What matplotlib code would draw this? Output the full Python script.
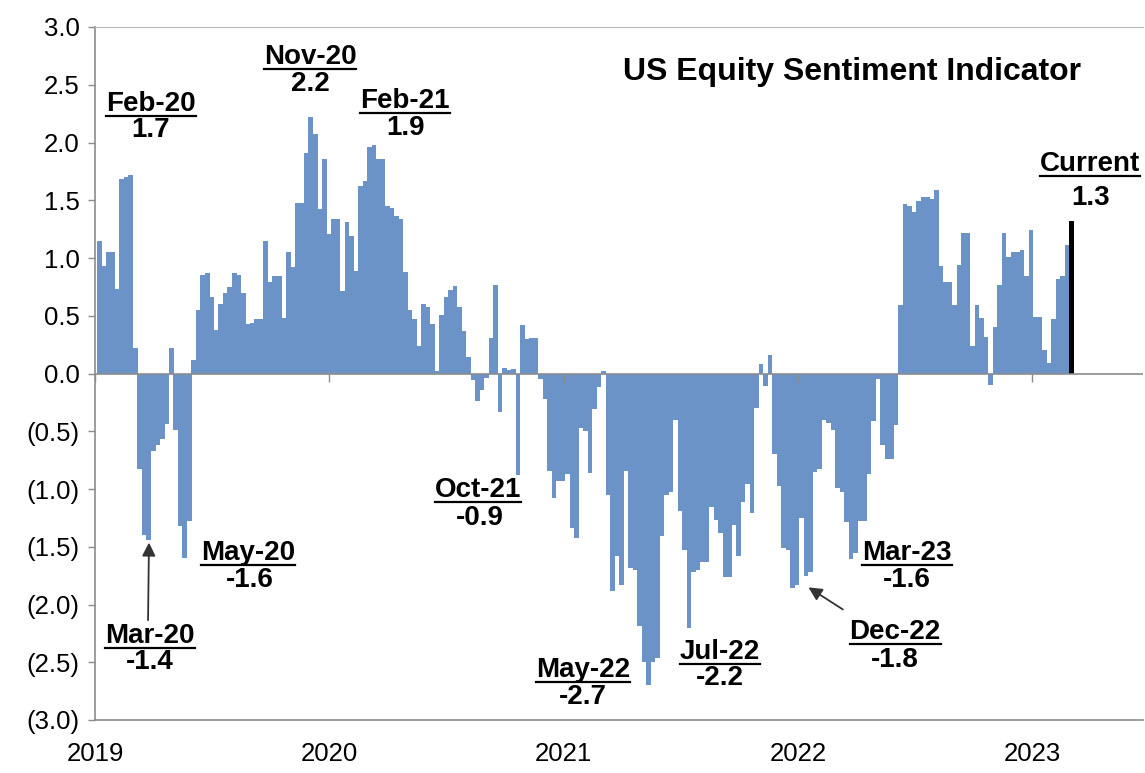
import matplotlib
matplotlib.use("Agg")
import matplotlib.pyplot as plt
from matplotlib import font_manager
from matplotlib.lines import Line2D
import numpy as np

# ---------------- data ----------------
values = [
    1.15, 0.93, 1.05, 1.05, 0.73, 1.68, 1.70, 1.72, 0.22, -0.83,
    -1.40, -1.44, -0.67, -0.62, -0.57, -0.44, 0.22, -0.49, -1.32, -1.60,
    -1.28, 0.12, 0.55, 0.85, 0.87, 0.66, 0.38, 0.60, 0.70, 0.75,
    0.87, 0.85, 0.70, 0.43, 0.44, 0.47, 0.47, 1.15, 0.79, 0.84,
    0.84, 0.48, 1.05, 0.92, 1.48, 1.48, 1.91, 2.22, 2.07, 1.42,
    1.86, 1.21, 1.34, 1.34, 0.71, 1.31, 1.19, 0.89, 1.62, 1.67,
    1.96, 1.98, 1.86, 1.86, 1.45, 1.43, 1.36, 1.34, 0.88, 0.55,
    0.47, 0.24, 0.60, 0.58, 0.43, 0.02, 0.51, 0.66, 0.72, 0.76,
    0.58, 0.37, 0.14, -0.06, -0.24, -0.14, -0.04, 0.31, 0.77, -0.33,
    0.05, 0.03, 0.04, -0.88, 0.42, 0.30, 0.31, 0.31, -0.05, -0.22,
    -0.84, -1.08, -0.93, -0.93, -0.87, -1.34, -1.42, -0.47, -0.50, -0.86,
    -0.31, -0.12, 0.02, -1.05, -1.88, -1.58, -1.83, -0.84, -1.68, -1.70,
    -2.19, -2.50, -2.70, -2.50, -2.46, -1.41, -1.05, -1.03, -0.40, -1.19,
    -1.53, -2.20, -1.72, -1.70, -1.63, -1.63, -1.16, -1.27, -1.38, -1.76,
    -1.76, -1.31, -1.58, -1.11, -0.96, -1.21, -0.30, 0.08, -0.11, 0.16,
    -0.70, -0.97, -1.51, -1.53, -1.86, -1.83, -1.25, -1.75, -1.72, -0.85,
    -0.83, -0.40, -0.43, -0.49, -0.99, -1.03, -1.29, -1.61, -1.55, -1.28,
    -1.28, -0.87, -0.41, -0.05, -0.62, -0.74, -0.74, -0.45, 0.59, 1.47,
    1.45, 1.40, 1.49, 1.53, 1.53, 1.51, 1.59, 0.93, 0.79, 0.79,
    0.59, 0.94, 1.22, 1.22, 0.24, 0.59, 0.48, 0.32, -0.10, 0.40,
    0.77, 1.22, 1.01, 1.05, 1.05, 1.07, 0.84, 1.24, 0.49, 0.49,
    0.20, 0.09, 0.47, 0.82, 0.84, 1.11, 1.32,
]
year_labels = ["2019", "2020", "2021", "2022", "2023"]
y_ticks = [3.0, 2.5, 2.0, 1.5, 1.0, 0.5, 0.0, -0.5, -1.0, -1.5, -2.0, -2.5, -3.0]
title = "US Equity Sentiment Indicator"
callout_names = ["Feb-20", "Nov-20", "Feb-21", "Current", "May-20", "Mar-20",
                 "Oct-21", "May-22", "Jul-22", "Dec-22", "Mar-23"]
callout_values = ["1.7", "2.2", "1.9", "1.3", "-1.6", "-1.4",
                  "-0.9", "-2.7", "-2.2", "-1.8", "-1.6"]

# ---------------- layout / style ----------------
W, H = 1145, 773
BLUE = "#6B93C8"
GRAY = "#8C8C8C"

def pick(fams):
    for f in fams:
        try:
            font_manager.findfont(font_manager.FontProperties(family=f), fallback_to_default=False)
            return f
        except Exception:
            pass
    return "DejaVu Sans"

FONT = pick(["Liberation Sans", "Arial"])
TICKFONT = pick(["Liberation Sans Narrow", "Liberation Sans"])

fig = plt.figure(figsize=(W / 100, H / 100), dpi=100)
fig.patch.set_facecolor("white")
ax = fig.add_axes([95 / W, 53 / H, 1048 / W, 693 / H])

n = len(values)
idx = np.arange(n)
colors = [BLUE] * (n - 1) + ["black"]
widths = [1.02] * (n - 1) + [1.3]
ax.bar(idx, values, width=widths, color=colors, linewidth=0, zorder=2)

ax.set_ylim(-3.0, 3.0)
ax.set_xlim(-0.944, 231.9)

def fmt(v):
    return f"({abs(v):.1f})" if v < 0 else f"{v:.1f}"

ax.set_yticks(y_ticks)
ax.set_yticklabels([fmt(v) for v in y_ticks], fontfamily=TICKFONT, fontsize=18.5)
ax.tick_params(axis="y", direction="out", length=5, width=1, color=GRAY, pad=6)

year_pos = [-0.944 + 52.06 * i for i in range(len(year_labels))]
ax.set_xticks(year_pos)
ax.set_xticklabels(year_labels, fontfamily=TICKFONT, fontsize=18.5)
ax.tick_params(axis="x", length=0, pad=16)

# zero line with small year ticks
ax.axhline(0, color=GRAY, lw=1.2, zorder=3)
ax.plot(year_pos, [0] * len(year_pos), ls="none", marker=3, ms=6, mew=1, color=GRAY, zorder=3)

for s in ["left", "bottom"]:
    ax.spines[s].set_color(GRAY)
    ax.spines[s].set_linewidth(1.2)
ax.spines["top"].set_color("#BBBBBB")
ax.spines["right"].set_visible(False)

# ---------------- annotations ----------------
def px(x, y):
    """convert reference pixel position to data coordinates"""
    return (x - 99.25) / 4.5, (374 - y) / 115.3

label_px = [(151, 105), (310, 58), (405, 102), (1090, 165), (248, 553), (150, 636),
            (478, 490), (583, 670), (720, 652), (895, 632), (907, 553)]
value_px = [(151, 131), (310, 85), (405, 129), (1090, 199), (250, 580), (150, 662),
            (480, 518), (583, 697), (720, 678), (895, 660), (907, 580)]

name_texts = []
for name, val, lp, vp in zip(callout_names, callout_values, label_px, value_px):
    t = ax.text(*px(*lp), name, ha="center", va="center", fontsize=20,
                fontweight="bold", fontfamily=FONT, zorder=5)
    name_texts.append(t)
    ax.text(*px(*vp), val, ha="center", va="center", fontsize=20,
            fontweight="bold", fontfamily=FONT, zorder=5)

ax.text(*px(852, 73), title, ha="center", va="center", fontsize=23,
        fontweight="bold", fontfamily=FONT, zorder=5)

arrow_style = dict(arrowstyle="-|>", color="#333333", lw=1.3, mutation_scale=20)
ax.annotate("", xy=px(149, 540), xytext=px(148, 623), arrowprops=arrow_style, zorder=5)
ax.annotate("", xy=px(806, 586), xytext=px(845, 611), arrowprops=arrow_style, zorder=5)

# underline the callout names
fig.canvas.draw()
r = fig.canvas.get_renderer()
for t in name_texts:
    bb = t.get_window_extent(renderer=r)
    y = bb.y0 + 1
    fig.add_artist(Line2D([bb.x0 / W, bb.x1 / W], [y / H, y / H],
                          transform=fig.transFigure, color="black", lw=1.6))

fig.savefig("out.png", dpi=100, facecolor="white")
